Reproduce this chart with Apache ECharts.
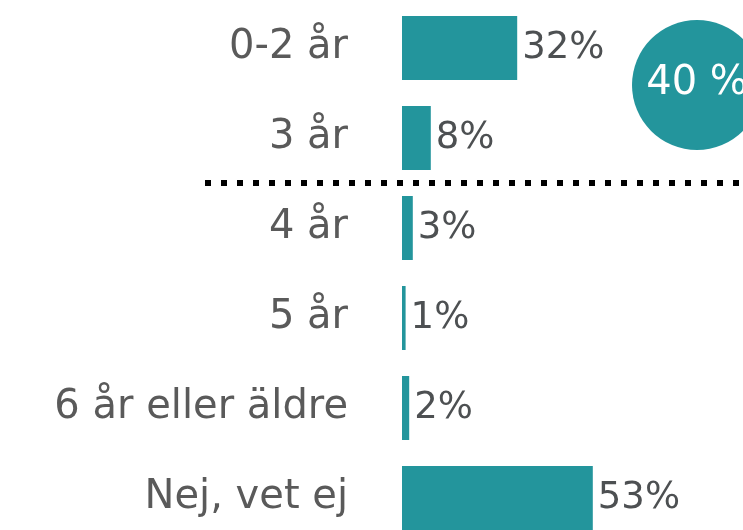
<!DOCTYPE html>
<html>
<head>
<meta charset="utf-8">
<script src="https://cdn.jsdelivr.net/npm/echarts@6/dist/echarts.min.js"></script>
<style>
  html, body { margin: 0; padding: 0; background: #fff; }
  #main { width: 743px; height: 530px; }
</style>
</head>
<body>
<div id="main"></div>
<script>
// kategorier och andelar (%)
const categories = ['0-2 år', '3 år', '4 år', '5 år', '6 år eller äldre', 'Nej, vet ej'];
const values = [32, 8, 3, 1, 2, 53];
const totalLabel = '40 %';

const BAR_COLOR = '#23959c';
const TEXT_COLOR = '#5a5a5a';
const FONT = 'DejaVu Sans';

let chart = echarts.init(document.getElementById('main'));

let option = {
    animation: false,
    grid: {
        left: 402, top: 3, width: 360, height: 540,
        containLabel: false,
        outerBoundsMode: 'none'
    },
    xAxis: {
        type: 'value',
        min: 0,
        max: 100,
        show: false
    },
    yAxis: {
        type: 'category',
        data: categories,
        inverse: true,
        axisLine: { show: false },
        axisTick: { show: false },
        axisLabel: {
            margin: 54,
            color: TEXT_COLOR,
            fontFamily: FONT,
            fontSize: 40
        }
    },
    series: [{
        type: 'bar',
        data: values,
        barWidth: 64,
        itemStyle: { color: BAR_COLOR },
        label: {
            show: true,
            position: 'right',
            distance: 5,
            formatter: '{c}%',
            color: '#4d5052',
            fontFamily: FONT,
            fontSize: 37
        }
    }]
};
chart.setOption(option);

// streckad linje mellan "3 år" och "4 år", cirkel med total
let y1 = chart.convertToPixel({ yAxisIndex: 0 }, categories[1]);
let y2 = chart.convertToPixel({ yAxisIndex: 0 }, categories[2]);
let lineY = (y1 + y2) / 2;
chart.setOption({
    graphic: [
        {
            type: 'line',
            shape: { x1: 205, y1: lineY, x2: 743, y2: lineY },
            style: { stroke: '#000', lineWidth: 6, lineDash: [6, 10] }
        },
        {
            type: 'circle',
            shape: { cx: 697, cy: 85, r: 65 },
            style: { fill: BAR_COLOR }
        },
        {
            type: 'text',
            x: 697,
            y: 84,
            style: {
                text: totalLabel,
                fill: '#fff',
                font: '40px ' + FONT,
                align: 'center',
                verticalAlign: 'middle'
            }
        }
    ]
});
</script>
</body>
</html>
